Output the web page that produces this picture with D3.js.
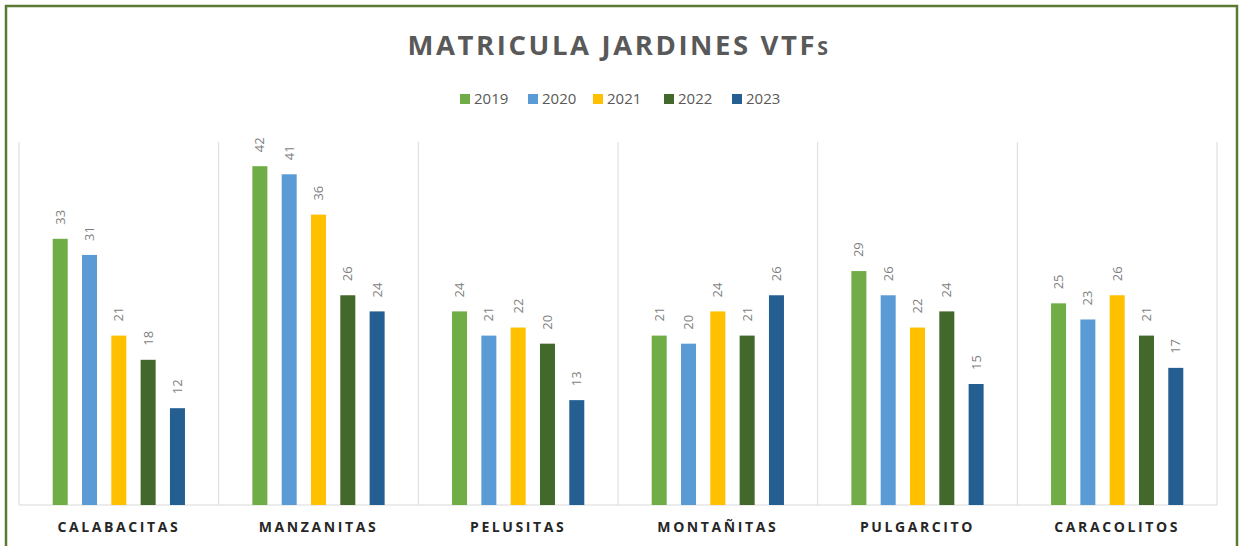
<!DOCTYPE html>
<html><head><meta charset="utf-8">
<script src="https://cdn.jsdelivr.net/npm/d3@7"></script>
<style>body{margin:0;background:#fff}svg{display:block}</style>
</head><body>
<svg id="c" width="1241" height="546"></svg>
<script>
const categories = ["CALABACITAS","MANZANITAS","PELUSITAS","MONTAÑITAS","PULGARCITO","CARACOLITOS"];
const seriesNames = ["2019","2020","2021","2022","2023"];
const s2019 = [33,42,24,21,29,25];
const s2020 = [31,41,21,20,26,23];
const s2021 = [21,36,22,24,22,26];
const s2022 = [18,26,20,21,24,21];
const s2023 = [12,24,13,26,15,17];
const colors = ["#70ad47","#5b9bd5","#ffc000","#43682b","#255e91"];
const yMax = 45;

(function(){
const series = [s2019,s2020,s2021,s2022,s2023];
const svg = d3.select("#c");

// outer border
svg.append("rect").attr("x",6).attr("y",6).attr("width",1231).attr("height",560)
  .attr("fill","#fff").attr("stroke","#5b7a31").attr("stroke-width",2.5);

const pL=19, pR=1217, pT=142, pB=505;
const x0 = d3.scaleBand().domain(categories).range([pL,pR]).padding(0);
const x1 = d3.scaleBand().domain(seriesNames).range([0,x0.bandwidth()]).paddingInner(0.488).paddingOuter(1.15);
const y = d3.scaleLinear().domain([0,yMax]).range([pB,pT]);

// vertical gridlines at category boundaries
const bounds = categories.map(c=>x0(c)).concat([pR]);
svg.append("g").selectAll("line").data(bounds).join("line")
  .attr("x1",d=>d).attr("x2",d=>d).attr("y1",pT).attr("y2",pB)
  .attr("stroke","#d9d9d9").attr("stroke-width",1);
svg.append("line").attr("x1",pL).attr("x2",pR).attr("y1",pB).attr("y2",pB)
  .attr("stroke","#d9d9d9").attr("stroke-width",1);

// bars
const g = svg.append("g");
categories.forEach((c,ci)=>{
  seriesNames.forEach((s,si)=>{
    const v = series[si][ci];
    const bx = x0(c)+x1(s);
    g.append("rect").attr("x",bx).attr("y",y(v)).attr("width",x1.bandwidth())
      .attr("height",pB-y(v)).attr("fill",colors[si]);
    const lx = bx + x1.bandwidth()/2 + 4.5, ly = y(v)-14;
    g.append("text").attr("transform",`translate(${lx},${ly}) rotate(-90)`)
      .attr("text-anchor","start").attr("font-family","'Open Sans',sans-serif")
      .attr("font-size",13).attr("fill","#7f7f7f").text(v);
  });
});

// category labels
svg.append("g").selectAll("text").data(categories).join("text")
  .attr("x",d=>x0(d)+x0.bandwidth()/2).attr("y",532)
  .attr("text-anchor","middle").attr("font-family","'Open Sans',sans-serif")
  .attr("font-weight","bold").attr("font-size",14).attr("letter-spacing","2.6px")
  .attr("fill","#262626").text(d=>d);

// title
const t = svg.append("text").attr("x",619).attr("y",55).attr("text-anchor","middle")
  .attr("font-family","'Open Sans',sans-serif").attr("font-weight","bold")
  .attr("font-size",27.5).attr("letter-spacing","2.6px").attr("fill","#595959");
t.append("tspan").text("MATRICULA JARDINES VTF");
t.append("tspan").attr("font-size",19.5).text("S");

// legend
const legX = [460,528,593,664,732];
const leg = svg.append("g");
seriesNames.forEach((s,i)=>{
  leg.append("rect").attr("x",legX[i]).attr("y",94).attr("width",10).attr("height",10).attr("fill",colors[i]);
  leg.append("text").attr("x",legX[i]+14).attr("y",104).attr("font-family","'Open Sans',sans-serif")
    .attr("font-size",15).attr("fill","#595959").text(s);
});
})();
</script>
</body></html>
